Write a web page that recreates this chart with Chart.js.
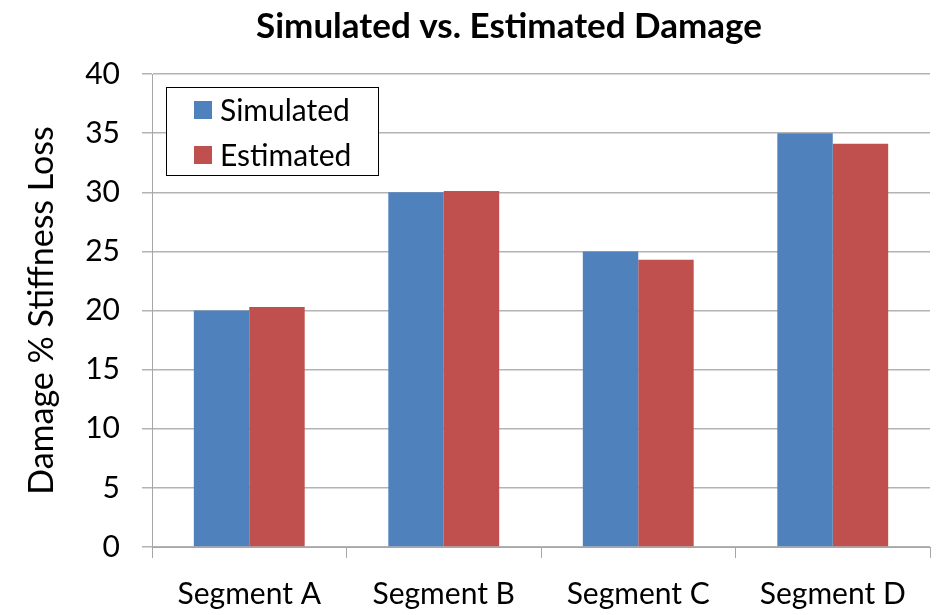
<!DOCTYPE html>
<html>
<head>
<meta charset="utf-8">
<script src="https://cdn.jsdelivr.net/npm/chart.js@4/dist/chart.umd.min.js"></script>
<style>
html,body{margin:0;padding:0;background:#fff;}
#wrap{width:948px;height:615px;}
</style>
</head>
<body>
<div id="wrap"><canvas id="c" width="948" height="615"></canvas></div>
<script>
const categories = ["Segment A", "Segment B", "Segment C", "Segment D"];
const simulated = [20, 30, 25, 35];
const estimated = [20.3, 30.1, 24.3, 34.1];
const seriesNames = ["Simulated", "Estimated"];
const yTicks = [0, 5, 10, 15, 20, 25, 30, 35, 40];
const chartTitle = "Simulated vs. Estimated Damage";

const FONT = "Lato, 'Open Sans', sans-serif";

const titleAndLegend = {
  id: 'titleAndLegend',
  afterDraw(chart) {
    const ctx = chart.ctx;
    ctx.save();
    ctx.font = "bold 35px " + FONT;
    ctx.fillStyle = '#000';
    ctx.textAlign = 'center';
    ctx.textBaseline = 'middle';
    ctx.fillText(chartTitle, 509, 27);
    ctx.restore();
  },
  afterDatasetsDraw(chart) {
    const ctx = chart.ctx;
    const a = chart.chartArea;
    const x = a.left + 14, y = a.top + 13, w = 212, h = 88;
    ctx.save();
    ctx.fillStyle = '#fff';
    ctx.fillRect(x, y, w, h);
    ctx.strokeStyle = '#000';
    ctx.lineWidth = 1;
    ctx.strokeRect(x + 0.5, y + 0.5, w, h);
    ctx.font = "30px " + FONT;
    ctx.textBaseline = 'middle';
    chart.data.datasets.forEach((ds, i) => {
      const cy = y + 23 + i * 45;
      ctx.fillStyle = ds.backgroundColor;
      ctx.fillRect(x + 28, cy - 9, 18, 18);
      ctx.fillStyle = '#000';
      ctx.fillText(ds.label, x + 54, cy + 1);
    });
    ctx.restore();
  }
};

new Chart(document.getElementById('c'), {
  type: 'bar',
  data: {
    labels: categories,
    datasets: [
      { label: seriesNames[0], data: simulated, backgroundColor: '#4F81BD', borderWidth: 0 },
      { label: seriesNames[1], data: estimated, backgroundColor: '#C0504D', borderWidth: 0 }
    ]
  },
  plugins: [titleAndLegend],
  options: {
    responsive: false,
    animation: false,
    events: [],
    layout: { padding: { left: 0, right: 18, top: 74, bottom: 0 } },
    datasets: { bar: { categoryPercentage: 0.57, barPercentage: 1.0 } },
    plugins: {
      legend: { display: false },
      tooltip: { enabled: false },
      title: { display: false }
    },
    scales: {
      x: {
        grid: { display: true, drawOnChartArea: false, drawTicks: true, tickLength: 11, offset: true, color: '#a6a6a6' },
        border: { display: true, color: '#a6a6a6' },
        ticks: { color: '#000', font: { family: FONT, size: 30 }, padding: 18 },
        afterFit(s) { s.height = 68; }
      },
      y: {
        min: 0, max: 40,
        afterBuildTicks(s) { s.ticks = yTicks.map(v => ({ value: v })); },
        grid: { color: '#b3b3b3', tickLength: 10, lineWidth: 1.5 },
        border: { display: true, color: '#a6a6a6' },
        ticks: { color: '#000', font: { family: FONT, size: 30 }, padding: 22 },
        title: {
          display: true, text: 'Damage % Stiffness Loss', color: '#000',
          font: { family: FONT, size: 34 }, padding: { top: 22, bottom: 0 }
        },
        afterFit(s) { s.width = 152; }
      }
    }
  }
});
</script>
</body>
</html>
